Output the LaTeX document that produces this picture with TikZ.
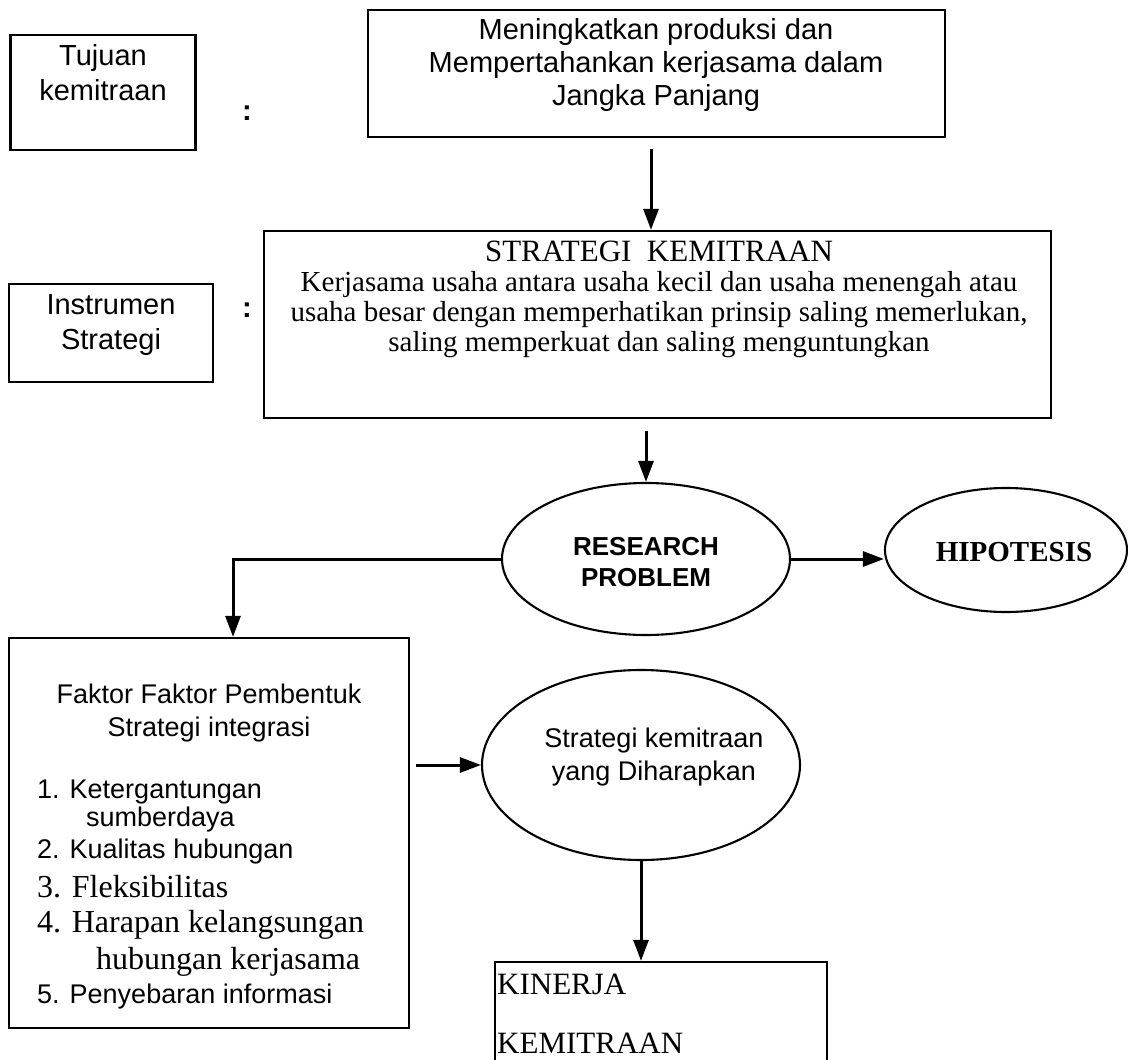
\documentclass[tikz,border=0pt]{standalone}
\usepackage{fontspec}
\setmainfont{Liberation Serif}
\newfontfamily\arialf{Liberation Sans}
\usetikzlibrary{shapes.geometric,arrows.meta}
\begin{document}
\begin{tikzpicture}[x=1pt,y=-1pt,
  frame/.style={draw, line width=2.3pt, inner sep=0pt},
  oval/.style={draw, ellipse, line width=2.1pt, inner sep=0pt},
  link/.style={line width=3pt, -{Triangle[length=21pt,width=15pt]}},
  sansA/.style={inner sep=0pt, font=\arialf\fontsize{29}{35}\selectfont},
  sansB/.style={inner sep=0pt, font=\arialf\fontsize{27}{33}\selectfont},
  serifA/.style={inner sep=0pt, font=\fontsize{29}{30}\selectfont},
  serifB/.style={inner sep=0pt, font=\fontsize{32}{38}\selectfont},
  item/.style={anchor=west}
]
\useasboundingbox (0,0) rectangle (1128,1060);

% upper row: goal of the partnership
\node[frame, minimum width=185pt, minimum height=115pt] (tuj) at (103,92.5) {};
\node[sansA, align=center] (tujtxt) at (103,73) {Tujuan\\kemitraan};
\node[sansA, font=\arialf\bfseries\fontsize{29}{35}\selectfont] (col1) at (247,113) {:};
\node[frame, minimum width=577pt, minimum height=127pt] (goal) at (656.5,73.5) {};
\node[sansA, align=center, font=\arialf\fontsize{29}{33}\selectfont] (goaltxt) at (656,65)
  {Meningkatkan produksi dan\\Mempertahankan kerjasama dalam\\Jangka Panjang};

% strategy instrument
\node[frame, minimum width=204pt, minimum height=98pt] (ins) at (111,333) {};
\node[sansA, align=center] (instxt) at (111,325) {Instrumen\\Strategi};
\node[sansA, font=\arialf\bfseries\fontsize{29}{35}\selectfont] (col2) at (247,310) {:};
\node[frame, minimum width=787pt, minimum height=187pt] (strat) at (657.5,324.5) {};
\node[serifA, align=center] (strattxt) at (659,299)
  {{\fontsize{31}{30}\selectfont STRATEGI\ \ KEMITRAAN}\\Kerjasama usaha antara usaha kecil dan usaha menengah atau\\usaha besar dengan memperhatikan prinsip saling memerlukan,\\saling memperkuat dan saling menguntungkan};

% research problem and hypothesis
\node[oval, minimum width=288pt, minimum height=152pt] (rp) at (646,559) {};
\node[inner sep=0pt, align=center, font=\arialf\bfseries\fontsize{26}{31}\selectfont] (rptxt) at (646,562) {RESEARCH\\PROBLEM};
\node[oval, minimum width=242pt, minimum height=124pt] (hip) at (1006,550) {};
\node[inner sep=0pt, font=\bfseries\fontsize{29}{33}\selectfont] (hiptxt) at (1014,552) {HIPOTESIS};

% forming factors
\node[frame, minimum width=400pt, minimum height=390pt] (fak) at (209,833) {};
\node[sansB, align=center] (faktit) at (209,713) {Faktor Faktor Pembentuk\\Strategi integrasi};
\node[sansB, item] (f1) at (37,792) {1. Ketergantungan};
\node[sansB, item] (f1b) at (86,820) {sumberdaya};
\node[sansB, item] (f2) at (37,852) {2. Kualitas hubungan};
\node[serifB, item] (f3) at (37,887) {3. Fleksibilitas};
\node[serifB, item] (f4) at (37,925) {4. Harapan kelangsungan};
\node[serifB, item] (f4b) at (96,962) {hubungan kerjasama};
\node[sansB, item] (f5) at (37,997) {5. Penyebaran informasi};

% expected strategy and performance
\node[oval, minimum width=318pt, minimum height=190pt] (sk) at (641,765) {};
\node[sansB, align=center] (sktxt) at (654,757) {Strategi kemitraan\\yang Diharapkan};
\node[frame, minimum width=332pt, minimum height=110pt] (kin) at (661,1017) {};
\node[inner sep=0pt, item, font=\fontsize{31}{36}\selectfont] (kin1) at (497,984) {KINERJA};
\node[inner sep=0pt, item, font=\fontsize{31}{36}\selectfont] (kin2) at (497,1043) {KEMITRAAN};

% connectors
\draw[link, shorten <=11pt] ([xshift=-5.5pt]goal.south) -- ([xshift=-5.5pt]goal.south |- strat.north);
\draw[link, shorten <=12pt] (rp.north |- strat.south) -- (rp.north);
\draw[link] (rp.east) -- (rp.east -| hip.west);
\draw[link] (rp.west) -| ([xshift=24pt]fak.north);
\draw[link, shorten <=6pt] (fak.east |- sk.west) -- (sk.west);
\draw[link] (sk.south) -- (sk.south |- kin.north);
\end{tikzpicture}
\end{document}
